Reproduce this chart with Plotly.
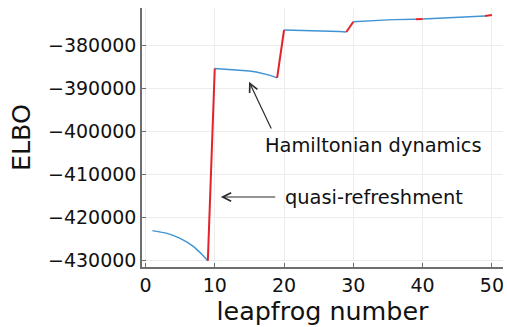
import plotly.graph_objects as go

# ---- data ----
leapfrog = list(range(1, 51))
elbo = [
    -423000, -423250, -423600, -424100, -424800, -425700, -426800, -428300, -430000,
    -385300, -385380, -385470, -385570, -385700, -385880, -386120, -386450, -386900, -387500,
    -376350, -376380, -376410, -376440, -376480, -376520, -376570, -376630, -376700, -376800,
    -374420, -374300, -374200, -374120, -374050, -373990, -373940, -373900, -373870, -373850,
    -373780, -373700, -373600, -373480, -373360, -373260, -373190, -373140, -373110, -373090,
    -372850,
]
refresh_from = [9, 19, 29, 39, 49]   # quasi-refreshment from step k to k+1

xtick_vals = [0, 10, 20, 30, 40, 50]
ytick_vals = [-380000, -390000, -400000, -410000, -420000, -430000]
ytick_text = ["\u2212380000", "\u2212390000", "\u2212400000", "\u2212410000", "\u2212420000", "\u2212430000"]

# ---- split into Hamiltonian (blue) runs and refreshment (red) jumps ----
bx, by, rx, ry = [], [], [], []
run_x, run_y = [leapfrog[0]], [elbo[0]]
for i in range(len(leapfrog) - 1):
    x0, x1 = leapfrog[i], leapfrog[i + 1]
    if x0 in refresh_from:
        bx += run_x + [None]; by += run_y + [None]
        rx += [x0, x1, None]; ry += [elbo[i], elbo[i + 1], None]
        run_x, run_y = [x1], [elbo[i + 1]]
    else:
        run_x.append(x1); run_y.append(elbo[i + 1])
if len(run_x) > 1:
    bx += run_x; by += run_y

font_family = "DejaVu Sans"
fig = go.Figure()
fig.add_trace(go.Scatter(x=bx, y=by, mode="lines",
                         line=dict(color="#4094d4", width=1.4), showlegend=False))
fig.add_trace(go.Scatter(x=rx, y=ry, mode="lines",
                         line=dict(color="#e3232b", width=2), showlegend=False))

arrow_color = "#2b2b2b"
fig.add_annotation(x=14.95, y=-388370, ax=18.25, ay=-399600, axref="x", ayref="y",
                   text="", showarrow=True, arrowhead=5, arrowsize=1.4, arrowwidth=1.2,
                   arrowcolor=arrow_color)
fig.add_annotation(x=10.87, y=-415190, ax=18.95, ay=-415190, axref="x", ayref="y",
                   text="", showarrow=True, arrowhead=5, arrowsize=1.4, arrowwidth=1.2,
                   arrowcolor=arrow_color)
fig.add_annotation(x=32.9, y=-403150, text="Hamiltonian dynamics", showarrow=False,
                   font=dict(family=font_family, size=19.4, color="#111"))
fig.add_annotation(x=33.0, y=-415190, text="quasi-refreshment", showarrow=False,
                   font=dict(family=font_family, size=19.4, color="#111"))

axis_common = dict(
    showline=True, linecolor="#6e6e6e", linewidth=1.5,
    ticks="inside", ticklen=4, tickcolor="#6e6e6e", tickwidth=1,
    showgrid=True, gridcolor="#ececec", gridwidth=1,
    zeroline=False, mirror=False,
    tickfont=dict(family=font_family, size=19, color="#111"),
)
fig.update_xaxes(range=[-0.5, 51.6], tickvals=xtick_vals,
                 title=dict(text="leapfrog number", standoff=3,
                            font=dict(family=font_family, size=25.4, color="#111")),
                 **axis_common)
fig.update_yaxes(range=[-431470, -371230], tickvals=ytick_vals, ticktext=ytick_text,
                 title=dict(text="ELBO", standoff=10,
                            font=dict(family=font_family, size=25.4, color="#111")),
                 **axis_common)
fig.update_layout(width=507, height=327, margin=dict(l=142, r=4, t=8, b=60),
                  paper_bgcolor="white", plot_bgcolor="white",
                  font=dict(family=font_family))
fig.write_html("out.html")
